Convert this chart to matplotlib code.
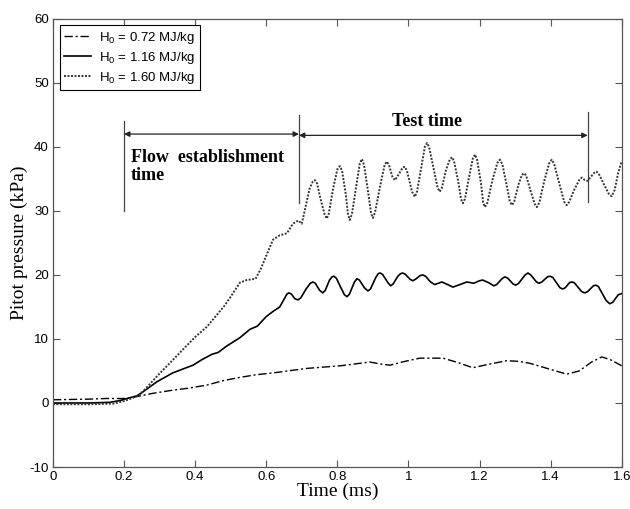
import matplotlib
matplotlib.use("Agg")
import matplotlib.pyplot as plt

# Pitot pressure traces (t in ms, p in kPa)
t_072 = [0.00, 0.10, 0.15, 0.20, 0.236, 0.28, 0.337, 0.38, 0.433, 0.48, 0.526, 0.57,
         0.619, 0.66, 0.714, 0.76, 0.807, 0.85, 0.891, 0.92, 0.948, 0.99, 1.032, 1.065,
         1.097, 1.14, 1.181, 1.23, 1.277, 1.31, 1.341, 1.39, 1.445, 1.48, 1.515, 1.544,
         1.57, 1.60]
p_072 = [0.5, 0.6, 0.7, 0.7, 1.0, 1.5, 2.0, 2.3, 2.8, 3.5, 4.0, 4.4,
         4.7, 5.0, 5.4, 5.6, 5.8, 6.1, 6.4, 6.1, 5.9, 6.5, 7.0, 7.0,
         7.0, 6.3, 5.5, 6.1, 6.6, 6.5, 6.2, 5.4, 4.5, 5.0, 6.4, 7.2,
         6.7, 5.8]

t_116 = [0.00, 0.10, 0.16, 0.19, 0.215, 0.236, 0.26, 0.292, 0.337, 0.37,
         0.394, 0.42, 0.447, 0.465, 0.489, 0.526, 0.554, 0.575, 0.600, 0.619,
         0.638, 0.650, 0.658, 0.664, 0.671, 0.680, 0.689, 0.697, 0.712, 0.724,
         0.731, 0.738, 0.750, 0.759, 0.766, 0.778, 0.785, 0.790, 0.797, 0.810,
         0.820, 0.827, 0.834, 0.848, 0.855, 0.862, 0.876, 0.886, 0.893, 0.908,
         0.915, 0.920, 0.927, 0.942, 0.950, 0.957, 0.970, 0.978, 0.984, 0.991,
         1.005, 1.012, 1.019, 1.033, 1.040, 1.048, 1.062, 1.074, 1.084, 1.094,
         1.110, 1.125, 1.145, 1.164, 1.184, 1.200, 1.209, 1.225, 1.240, 1.248,
         1.263, 1.271, 1.279, 1.294, 1.302, 1.310, 1.328, 1.336, 1.344, 1.360,
         1.367, 1.375, 1.391, 1.398, 1.406, 1.426, 1.434, 1.441, 1.453, 1.459,
         1.466, 1.487, 1.496, 1.504, 1.520, 1.527, 1.534, 1.556, 1.566, 1.574,
         1.590, 1.600]
p_116 = [0.0, 0.0, 0.1, 0.4, 0.8, 1.1, 2.0, 3.3, 4.7, 5.4,
         5.9, 6.8, 7.6, 7.9, 8.9, 10.2, 11.5, 12.0, 13.5, 14.3,
         15.0, 16.2, 17.0, 17.2, 17.0, 16.3, 16.1, 16.4, 17.8, 18.7,
         18.9, 18.7, 17.6, 17.2, 17.6, 19.2, 19.7, 19.8, 19.5, 18.0,
         16.9, 16.6, 17.0, 18.9, 19.4, 19.2, 18.0, 17.5, 17.8, 19.6,
         20.2, 20.3, 20.1, 18.8, 18.3, 18.6, 19.8, 20.2, 20.3, 20.1,
         19.3, 19.1, 19.3, 19.9, 20.0, 19.8, 18.9, 18.5, 18.7, 18.9,
         18.5, 18.1, 18.5, 18.9, 18.7, 19.1, 19.2, 18.8, 18.3, 18.5,
         19.4, 19.7, 19.5, 18.6, 18.4, 18.7, 20.0, 20.3, 20.0, 18.9,
         18.7, 18.9, 19.7, 19.8, 19.6, 18.0, 17.8, 18.0, 18.8, 18.9,
         18.8, 17.4, 17.2, 17.4, 18.3, 18.4, 18.2, 16.0, 15.5, 15.7,
         16.9, 17.1]

t_160 = [0.00, 0.10, 0.17, 0.20, 0.22, 0.245, 0.27, 0.30, 0.337, 0.37,
         0.40, 0.433, 0.46, 0.48, 0.50, 0.526, 0.545, 0.57, 0.585, 0.60,
         0.619, 0.638, 0.658, 0.675, 0.690, 0.700, 0.710, 0.722, 0.731, 0.737,
         0.743, 0.752, 0.764, 0.770, 0.776, 0.788, 0.800, 0.807, 0.813, 0.824,
         0.830, 0.835, 0.841, 0.852, 0.863, 0.869, 0.875, 0.885, 0.895, 0.900,
         0.906, 0.920, 0.933, 0.939, 0.945, 0.955, 0.962, 0.968, 0.984, 0.990,
         0.996, 1.010, 1.018, 1.024, 1.035, 1.046, 1.052, 1.058, 1.070, 1.082,
         1.088, 1.094, 1.105, 1.116, 1.122, 1.128, 1.140, 1.148, 1.153, 1.159,
         1.170, 1.181, 1.187, 1.193, 1.204, 1.210, 1.215, 1.222, 1.236, 1.250,
         1.257, 1.264, 1.278, 1.285, 1.291, 1.297, 1.310, 1.319, 1.325, 1.331,
         1.343, 1.355, 1.361, 1.368, 1.382, 1.396, 1.403, 1.410, 1.424, 1.438,
         1.445, 1.452, 1.466, 1.482, 1.488, 1.496, 1.504, 1.517, 1.525, 1.530,
         1.537, 1.551, 1.565, 1.572, 1.580, 1.590, 1.600]
p_160 = [-0.2, -0.2, -0.1, 0.3, 0.7, 1.3, 2.8, 4.6, 6.7, 8.6,
         10.3, 11.9, 13.7, 15.0, 16.6, 18.8, 19.2, 19.4, 21.0, 23.0,
         25.5, 26.2, 26.5, 28.0, 28.5, 28.0, 30.5, 33.5, 34.6, 34.8,
         34.3, 32.0, 29.5, 28.8, 29.6, 33.5, 36.5, 37.0, 36.3, 32.5,
         29.4, 28.6, 29.5, 33.5, 37.4, 38.1, 37.2, 33.5, 29.6, 28.9,
         29.8, 33.8, 37.2, 37.7, 37.2, 35.3, 34.8, 35.3, 36.8, 36.9,
         36.2, 33.0, 32.2, 33.0, 36.5, 40.0, 40.6, 40.0, 36.8, 33.6,
         33.0, 33.6, 36.3, 38.0, 38.4, 37.8, 34.6, 31.8, 31.2, 31.9,
         35.2, 38.2, 38.8, 38.0, 34.3, 31.3, 30.6, 31.3, 34.8, 37.5,
         38.0, 37.3, 33.5, 31.5, 30.9, 31.4, 34.2, 35.6, 35.9, 35.5,
         33.2, 31.1, 30.6, 31.3, 34.7, 37.5, 38.0, 37.3, 34.3, 31.4,
         30.9, 31.4, 33.3, 35.0, 35.2, 34.8, 34.7, 35.6, 36.1, 36.1,
         35.6, 34.0, 32.5, 32.3, 33.3, 36.0, 37.8]

labels = [r"H$_0$ = 0.72 MJ/kg", r"H$_0$ = 1.16 MJ/kg", r"H$_0$ = 1.60 MJ/kg"]

# time-window markers (ms)
t_start, t_test0, t_test1 = 0.2, 0.692, 1.504

plt.rcParams["font.family"] = ["Liberation Sans", "DejaVu Sans"]
plt.rcParams["mathtext.default"] = "regular"
plt.rcParams["axes.unicode_minus"] = False

fig = plt.figure(figsize=(6.3, 5.09), dpi=100)
ax = fig.add_axes([0.084, 0.0825, 0.903, 0.8805])

ax.plot(t_072, p_072, color="black", lw=1.0, ls=(0, (6, 2, 1.5, 2)), label=labels[0])
ax.plot(t_116, p_116, color="black", lw=1.2, ls="-", label=labels[1])
ax.plot(t_160, p_160, color="#333333", lw=1.4, ls=(0, (1, 0.8)), label=labels[2])

ax.set_xlim(0, 1.6)
ax.set_ylim(-10, 60)
ax.set_xticks([0, 0.2, 0.4, 0.6, 0.8, 1, 1.2, 1.4, 1.6])
ax.set_xticklabels(["0", "0.2", "0.4", "0.6", "0.8", "1", "1.2", "1.4", "1.6"])
ax.set_yticks(range(-10, 61, 10))
ax.tick_params(direction="in", top=True, right=True, length=5, width=0.8,
               labelsize=9.5, color="#555555", pad=3)
for s in ax.spines.values():
    s.set_color("#555555")
    s.set_linewidth(0.9)

ax.set_xlabel("Time (ms)", family="Liberation Serif", fontsize=14, labelpad=0)
ax.set_ylabel("Pitot pressure (kPa)", family="Liberation Serif", fontsize=14, labelpad=1)

leg = ax.legend(loc="upper left", bbox_to_anchor=(0.012, 0.986), borderaxespad=0,
                fontsize=9.5, handlelength=2.0, fancybox=False, framealpha=1,
                edgecolor="black", labelspacing=0.3, borderpad=0.35, handletextpad=0.6)
leg.get_frame().set_linewidth(0.8)

# annotation markers
for tx, y0, y1 in [(t_start, 30, 44.1), (t_test0, 31.3, 45), (t_test1, 31.4, 45.5)]:
    ax.plot([tx, tx], [y0, y1], color="#444444", lw=0.9)
arrow = dict(arrowstyle="<|-|>", color="#222222", lw=0.9, mutation_scale=8,
             shrinkA=0, shrinkB=0)
ax.annotate("", xy=(t_test0, 42.0), xytext=(t_start, 42.0), arrowprops=arrow)
ax.annotate("", xy=(t_test0, 41.8), xytext=(t_test1, 41.8), arrowprops=arrow)

ax.text(0.219, 36.9, "Flow  establishment\ntime", family="Liberation Serif",
        fontweight="bold", fontsize=13, ha="left", va="center", linespacing=1.05)
ax.text(1.052, 43.9, "Test time", family="Liberation Serif", fontweight="bold",
        fontsize=13, ha="center", va="center")

fig.savefig("out.png", dpi=100)
